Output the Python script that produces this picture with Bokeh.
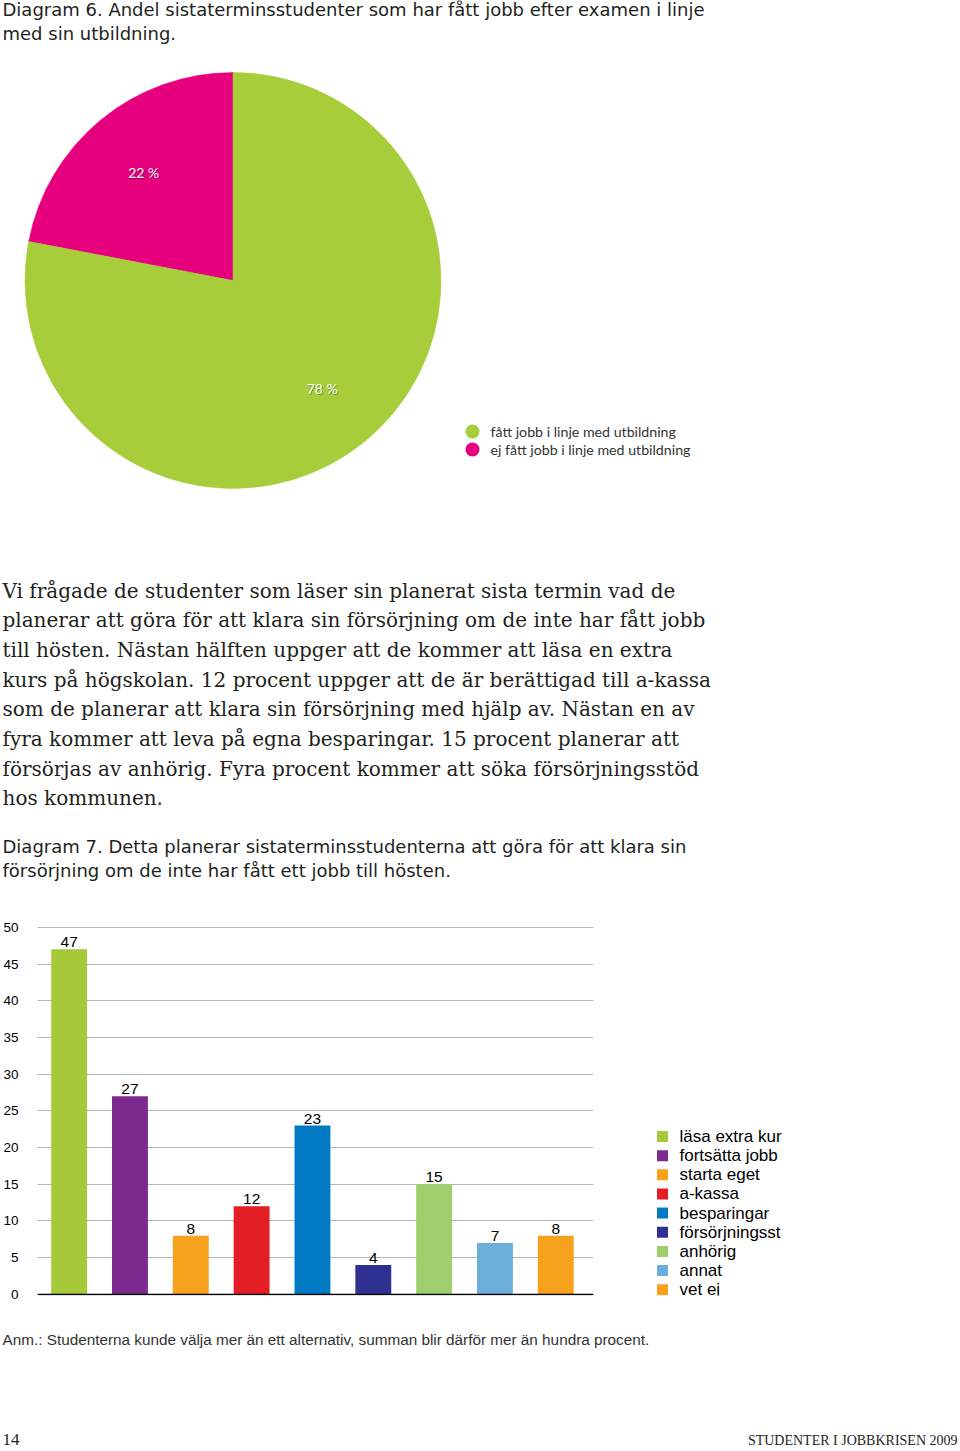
import numpy as np
from bokeh.plotting import figure
from bokeh.models import Range1d, ColumnDataSource, Span, FixedTicker
from bokeh.layouts import column, row
from bokeh.embed import file_html
from bokeh.resources import INLINE
from bokeh.core.properties import value

# ---------------- data ----------------
title6 = ["Diagram 6. Andel sistaterminsstudenter som har fått jobb efter examen i linje",
          "med sin utbildning."]
pie_labels = ["fått jobb i linje med utbildning", "ej fått jobb i linje med utbildning"]
pie_values = [78, 22]
pie_colors = ["#a7cd3b", "#e6007e"]

body_lines = [
    "Vi frågade de studenter som läser sin planerat sista termin vad de",
    "planerar att göra för att klara sin försörjning om de inte har fått jobb",
    "till hösten. Nästan hälften uppger att de kommer att läsa en extra",
    "kurs på högskolan. 12 procent uppger att de är berättigad till a-kassa",
    "som de planerar att klara sin försörjning med hjälp av. Nästan en av",
    "fyra kommer att leva på egna besparingar. 15 procent planerar att",
    "försörjas av anhörig. Fyra procent kommer att söka försörjningsstöd",
    "hos kommunen.",
]
title7 = ["Diagram 7. Detta planerar sistaterminsstudenterna att göra för att klara sin",
          "försörjning om de inte har fått ett jobb till hösten."]

bar_categories = ["läsa extra kur", "fortsätta jobb", "starta eget", "a-kassa", "besparingar",
                  "försörjningsst", "anhörig", "annat", "vet ej"]
bar_values = [47, 27, 8, 12, 23, 4, 15, 7, 8]
bar_colors = ["#a6c93a", "#7c2a8e", "#f6a21d", "#e31e25", "#007bc3", "#2e3192",
              "#9fcf6d", "#6aaed9", "#f6a21d"]
y_ticks = [0, 5, 10, 15, 20, 25, 30, 35, 40, 45, 50]

note = "Anm.: Studenterna kunde välja mer än ett alternativ, summan blir därför mer än hundra procent."
page_number = "14"
running_title = "STUDENTER I JOBBKRISEN 2009"

SANS = value("DejaVu Sans")
SERIF = value("DejaVu Serif")
HUM = value("Lato")
INK = "#231f20"

W = 958


def blank(width, height, **kw):
    f = figure(width=width, height=height, x_range=Range1d(0, width), y_range=Range1d(0, height),
               x_axis_type=None, y_axis_type=None, toolbar_location=None, output_backend="svg",
               min_border=0, outline_line_color=None, background_fill_color="white", **kw)
    f.xgrid.visible = False
    f.ygrid.visible = False
    return f


# ---------------- top: title, pie, body text, diagram 7 title ----------------
H1 = 905
top = blank(W, H1)
Y = lambda ry: H1 - ry

top.text(x=[2] * 2, y=[Y(9), Y(33)], text=title6, text_font=SANS, text_font_size="18px",
         text_color=INK, text_baseline="middle", text_align="left")

# pie (starts at 12 o'clock, second slice first counter-clockwise)
vals = np.array(pie_values, dtype=float)
order = [1, 0]
frac = vals[order] / vals.sum()
ends = np.pi / 2 + 2 * np.pi * np.cumsum(frac)
starts = ends - 2 * np.pi * frac
cx, cy, R = 232.5, Y(280), 208
pie_src = ColumnDataSource(dict(start=starts, end=ends, color=[pie_colors[i] for i in order]))
top.wedge(x=cx, y=cy, radius=R, start_angle="start", end_angle="end", direction="anticlock",
          fill_color="color", line_color="color", line_width=0.5, source=pie_src)
mid = (starts + ends) / 2
lr = 0.673 * R
lab = ["%d %%" % pie_values[i] for i in order]
lx = cx + lr * np.cos(mid)
ly = cy + lr * np.sin(mid)
top.text(x=lx + 0.8, y=ly - 0.8, text=lab, text_font=HUM, text_font_size="14px", text_color="#000000",
         text_alpha=0.35, text_align="center", text_baseline="middle")
top.text(x=lx, y=ly, text=lab, text_font=HUM, text_font_size="14px", text_color="white",
         text_align="center", text_baseline="middle")

# pie legend
leg_y = [Y(431) - 18 * i for i in range(len(pie_labels))]
top.scatter(x=[472] * 2, y=leg_y, size=14, marker="circle", fill_color=pie_colors, line_color=None)
top.text(x=[490] * 2, y=leg_y, text=pie_labels, text_font=HUM, text_font_size="14.2px",
         text_color="#333333", text_baseline="middle", text_align="left")

# body paragraph
body_y = [Y(590 + 29.7 * i) for i in range(len(body_lines))]
top.text(x=[2] * len(body_lines), y=body_y, text=body_lines, text_font=SERIF,
         text_font_size="20px", text_color=INK, text_baseline="middle", text_align="left")

top.text(x=[2] * 2, y=[Y(846), Y(870)], text=title7, text_font=SANS, text_font_size="18px",
         text_color=INK, text_baseline="middle", text_align="left")

# ---------------- bar chart ----------------
H2 = 410
MT, MB = 20, 20
idx = list(range(len(bar_values)))
bars = figure(width=602, height=H2, x_range=Range1d(-0.52, 8.62), y_range=Range1d(-0.15, 50.25),
              toolbar_location=None, output_backend="svg", outline_line_color=None,
              min_border_left=35, min_border_right=9, min_border_top=MT, min_border_bottom=MB)
bsrc = ColumnDataSource(dict(x=idx, top=bar_values, color=bar_colors, cat=bar_categories,
                             lab=[str(v) for v in bar_values]))
bars.vbar(x="x", top="top", bottom=0, width=0.59, fill_color="color", line_color=None, source=bsrc)
bars.text(x="x", y="top", text="lab", text_font=value("Liberation Sans"), text_font_size="15.5px",
          text_color="black", text_align="center", text_baseline="bottom", y_offset=-2, source=bsrc)
bars.xaxis.visible = False
bars.xgrid.visible = False
bars.ygrid.ticker = FixedTicker(ticks=y_ticks)
bars.ygrid.grid_line_color = "#b5b5b5"
bars.ygrid.grid_line_width = 1
bars.yaxis.ticker = FixedTicker(ticks=y_ticks)
bars.yaxis.axis_line_color = None
bars.yaxis.major_tick_line_color = None
bars.yaxis.minor_tick_line_color = None
bars.yaxis.major_label_standoff = 13
bars.yaxis.major_label_text_font = "Liberation Sans"
bars.yaxis.major_label_text_font_size = "13.5px"
bars.yaxis.major_label_text_color = "black"
bars.add_layout(Span(location=0, dimension="width", line_color="black", line_width=1.5))

# legend for bars (its frame is aligned with the bar chart frame)
FH = H2 - MT - MB
legf = figure(width=W - 602, height=H2, x_range=Range1d(0, W - 602), y_range=Range1d(0, FH),
              x_axis_type=None, y_axis_type=None, toolbar_location=None, output_backend="svg",
              min_border_left=0, min_border_right=0, min_border_top=MT, min_border_bottom=MB,
              outline_line_color=None)
legf.xgrid.visible = False
legf.ygrid.visible = False
LX = lambda rx: rx - 602
LY = lambda ry: FH - (ry - 905 - MT)
ly_rows = [LY(1136 + 19.15 * i) for i in idx]
legf.scatter(x=[LX(662)] * len(idx), y=ly_rows, marker="square", size=11, fill_color=bar_colors,
             line_color=None)
legf.text(x=[LX(679)] * len(idx), y=ly_rows, text=bar_categories, text_font=value("Liberation Sans"),
          text_font_size="17px", text_color="black", text_baseline="middle", text_align="left")

# ---------------- bottom: note and footer ----------------
H3 = 1449 - H1 - H2
bot = blank(W, H3)
BY = lambda ry: H3 - (ry - H1 - H2)
bot.text(x=[2], y=[BY(1339)], text=[note], text_font=value("Liberation Sans"), text_font_size="15.3px",
         text_color="#333333", text_baseline="middle", text_align="left")
bot.text(x=[2], y=[BY(1439)], text=[page_number], text_font=value("Liberation Serif"),
         text_font_size="17px", text_color=INK, text_baseline="middle", text_align="left")
bot.text(x=[W - 1], y=[BY(1440)], text=[running_title], text_font=value("Liberation Serif"),
         text_font_size="14px", text_color=INK, text_baseline="middle", text_align="right")

layout = column(top, row(bars, legf), bot)
open("out.html", "w").write(file_html(layout, INLINE))
